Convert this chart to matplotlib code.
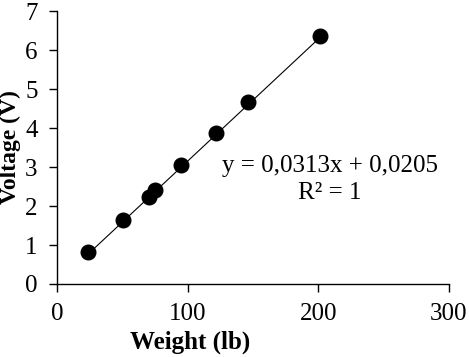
import matplotlib
matplotlib.use("Agg")
import matplotlib.pyplot as plt

weight = [23.7, 50.7, 70.1, 75.0, 94.9, 121.7, 145.9, 201.2]
voltage = [0.81, 1.64, 2.24, 2.41, 3.05, 3.86, 4.66, 6.37]
slope, intercept = 0.0313, 0.0205
xticks = [0, 100, 200, 300]
yticks = [0, 1, 2, 3, 4, 5, 6, 7]

plt.rcParams["font.family"] = ["Liberation Serif", "DejaVu Serif"]

fig = plt.figure(figsize=(4.69, 3.57), dpi=100)
ax = fig.add_axes([0.1215, 0.2045, 0.8355, 0.7645])

# trendline over data range
xs = [min(weight), max(weight)]
ax.plot(xs, [slope * x + intercept for x in xs], color="black", linewidth=0.8, zorder=2)
ax.plot(weight, voltage, "o", color="black", markersize=10.5, zorder=3)

ax.set_xlim(0, 300)
ax.set_ylim(0, 7)
ax.set_xticks(xticks)
ax.set_yticks(yticks)
ax.tick_params(direction="out", length=6, width=1, labelsize=18)
ax.tick_params(axis="x", pad=8)
ax.tick_params(axis="y", pad=8)
for s in ["top", "right"]:
    ax.spines[s].set_visible(False)
ax.spines["left"].set_linewidth(1)
ax.spines["bottom"].set_linewidth(1)

ax.set_xlabel("Weight (lb)", fontsize=18, fontweight="bold")
ax.set_ylabel("Voltage (V)", fontsize=17, fontweight="bold")
ax.xaxis.set_label_coords(0.34, -0.17)
ax.yaxis.set_label_coords(-0.092, 0.5)

ax.text(209, 2.69, f"y = {slope:.4f}x + {intercept:.4f}".replace(".", ",") + "\nR² = 1",
        ha="center", va="center", multialignment="center", fontsize=18, linespacing=1.3)

fig.savefig("out.png", dpi=100)
